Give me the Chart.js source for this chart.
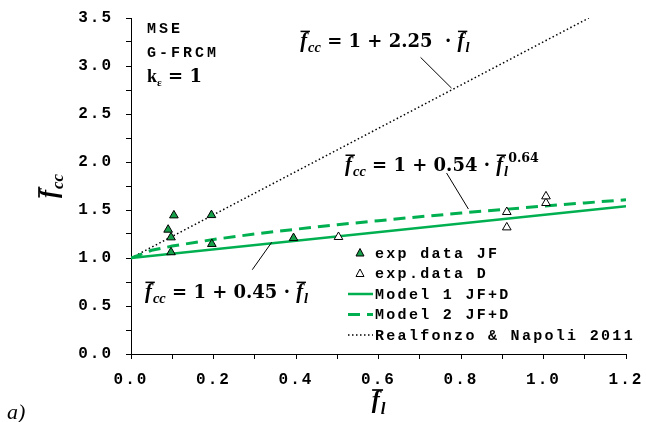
<!DOCTYPE html>
<html>
<head>
<meta charset="utf-8">
<script src="https://cdn.jsdelivr.net/npm/chart.js@4.4.1/dist/chart.umd.min.js"></script>
<style>
    html, body { margin: 0; padding: 0; background: #fff; }
    #wrap { width: 646px; height: 422px; }
</style>
</head>
<body>
<div id="wrap"><canvas id="chart" width="646" height="422"></canvas></div>
<script>
// experimental points
const jfX = [0.09, 0.097, 0.097, 0.104, 0.195, 0.196, 0.394];
const jfY = [1.295, 1.215, 1.06, 1.444, 1.447, 1.146, 1.208];
const dX = [0.503, 0.911, 0.911, 1.006, 1.006];
const dY = [1.219, 1.479, 1.319, 1.573, 1.642];

// model curves
const model1X = [0, 1.2];
const model1Y = [1.0, 1.54];
const model2X = [0, 0.05, 0.1, 0.2, 0.3, 0.4, 0.5, 0.6, 0.7, 0.8, 0.9, 1.0, 1.1, 1.2];
const model2Y = [1.0, 1.08, 1.124, 1.193, 1.25, 1.3, 1.347, 1.389, 1.43, 1.468, 1.505, 1.54, 1.574, 1.607];
const realX = [0, 1.11];
const realY = [1.0, 3.5];

const seriesLabels = ["exp data JF", "exp.data D", "Model 1 JF+D", "Model 2 JF+D", "Realfonzo & Napoli 2011"];
const xTickLabels = ["0.0", "0.2", "0.4", "0.6", "0.8", "1.0", "1.2"];
const yTickLabels = ["0.0", "0.5", "1.0", "1.5", "2.0", "2.5", "3.0", "3.5"];

const GREEN = "#00b050";
const MARK_GREEN = "#17a04a";
const MONO = "'Liberation Mono', 'DejaVu Sans Mono', monospace";
const SERIF = "'DejaVu Serif', serif";
const SERIF_IT = "'Liberation Serif', serif";

function pts(xs, ys) {
    return xs.map((x, i) => ({ x: x, y: ys[i] }));
}

function tickLabel(labels, step) {
    return function (v) {
        const i = Math.round(v / step);
        return Math.abs(v - i * step) < 1e-6 ? labels[i] : "";
    };
}

// draws a formula made of parts: {t, it, sub, sup, bar}
function drawMath(ctx, x, y, parts, size) {
    let cx = x;
    parts.forEach((p) => {
        const small = p.sub || p.sup;
        const s = small ? size * 0.7 : size;
        const fam = p.it ? SERIF_IT : SERIF;
        const sz = p.it ? s * 1.15 : s;
        ctx.font = (p.it ? "italic " : "") + "bold " + sz + "px " + fam;
        const dy = p.sub ? size * 0.3 : p.sup ? -size * 0.48 : 0;
        ctx.fillText(p.t, cx, y + dy);
        const w = ctx.measureText(p.t).width;
        if (p.bar) {
            ctx.fillRect(cx + sz * 0.02, y - sz * 0.78, w + sz * 0.12, Math.max(1.5, sz * 0.07));
        }
        cx += w + (p.gap || 0);
    });
    return cx - x;
}

function measureMath(ctx, parts, size) {
    ctx.save();
    ctx.globalAlpha = 0;
    const w = drawMath(ctx, 0, 0, parts, size);
    ctx.restore();
    return w;
}

const fcc = [{ t: "f", it: 1, bar: 1, gap: 1 }, { t: "cc", it: 1, sub: 1 }];
const fl = [{ t: "f", it: 1, bar: 1, gap: 1 }, { t: "l", it: 1, sub: 1 }];

const equations = [
    { x: 0.41, y: 3.2, parts: fcc.concat([{ t: " = 1 + 2.25  · " }], fl), lead: [0.702, 3.09, 0.777, 2.77] },
    { x: 0.519, y: 1.91, parts: fcc.concat([{ t: " = 1 + 0.54 · " }], fl, [{ t: "0.64", sup: 1 }]), lead: [0.765, 1.885, 0.818, 1.51] },
    { x: 0.034, y: 0.586, parts: fcc.concat([{ t: " = 1 + 0.45 · " }], fl), lead: [0.294, 0.878, 0.341, 1.163] },
];

const spacing = {
    id: "spacing",
    beforeLayout(chart) { chart.ctx.letterSpacing = "2px"; },
    beforeDraw(chart) { chart.ctx.letterSpacing = "2px"; },
};

const extras = {
    id: "extras",
    afterDraw(chart) {
        const ctx = chart.ctx;
        const xs = chart.scales.x;
        const ys = chart.scales.y;
        const area = chart.chartArea;
        ctx.save();
        ctx.letterSpacing = "0px";
        ctx.fillStyle = "#000";
        ctx.strokeStyle = "#000";
        ctx.textBaseline = "alphabetic";
        ctx.textAlign = "left";

        // equations with leader lines
        equations.forEach((e) => {
            drawMath(ctx, xs.getPixelForValue(e.x), ys.getPixelForValue(e.y), e.parts, 18);
            ctx.lineWidth = 1;
            ctx.beginPath();
            ctx.moveTo(xs.getPixelForValue(e.lead[0]), ys.getPixelForValue(e.lead[1]));
            ctx.lineTo(xs.getPixelForValue(e.lead[2]), ys.getPixelForValue(e.lead[3]));
            ctx.stroke();
        });

        // case notes
        const nx = xs.getPixelForValue(0.039);
        ctx.font = "bold 15px " + MONO;
        ctx.letterSpacing = "3px";
        ctx.fillText("MSE", nx, ys.getPixelForValue(3.34));
        ctx.fillText("G-FRCM", nx, ys.getPixelForValue(3.09));
        ctx.letterSpacing = "0px";
        const ky = ys.getPixelForValue(2.83);
        ctx.font = "bold 18px 'Liberation Serif', serif";
        ctx.fillText("k", nx, ky);
        let kw = ctx.measureText("k").width;
        ctx.font = "bold 11px 'Liberation Serif', serif";
        ctx.fillText("ε", nx + kw, ky + 4);
        kw += ctx.measureText("ε").width;
        ctx.font = "bold 18px " + SERIF;
        ctx.fillText(" = 1", nx + kw, ky);

        // axis titles
        const xw = measureMath(ctx, fl, 21);
        drawMath(ctx, (area.left + area.right) / 2 - xw / 2, 408, fl, 21);
        ctx.save();
        ctx.translate(57, (area.top + area.bottom) / 2);
        ctx.rotate(-Math.PI / 2);
        const yw = measureMath(ctx, fcc, 21);
        drawMath(ctx, -yw / 2, 0, fcc, 21);
        ctx.restore();

        // panel tag
        ctx.font = "italic 22px 'Liberation Serif', serif";
        ctx.fillText("a)", 7, 419);

        // legend
        const ds = chart.data.datasets;
        const lx = 348;
        ctx.font = "bold 15px " + MONO;
        ctx.letterSpacing = "2.3px";
        ctx.textBaseline = "middle";
        ds.forEach((d, i) => {
            const ry = 253 + i * 20.5;
            if (d.showLine) {
                ctx.save();
                ctx.strokeStyle = d.borderColor;
                ctx.lineWidth = d.borderWidth;
                ctx.setLineDash(d.borderDash || []);
                ctx.beginPath();
                ctx.moveTo(lx, ry);
                ctx.lineTo(lx + 25, ry);
                ctx.stroke();
                ctx.restore();
            } else {
                ctx.save();
                ctx.fillStyle = d.backgroundColor;
                ctx.strokeStyle = "#000";
                ctx.lineWidth = 1;
                ctx.beginPath();
                ctx.moveTo(lx + 12, ry - 4.5);
                ctx.lineTo(lx + 16, ry + 3);
                ctx.lineTo(lx + 8, ry + 3);
                ctx.closePath();
                ctx.fill();
                ctx.stroke();
                ctx.restore();
            }
            ctx.fillStyle = "#000";
            ctx.fillText(d.label, lx + 27, ry + 1);
        });
        ctx.restore();
    },
};

new Chart(document.getElementById("chart").getContext("2d"), {
    type: "scatter",
    data: {
        datasets: [
            {
                label: seriesLabels[0],
                data: pts(jfX, jfY),
                pointStyle: "triangle",
                radius: 5,
                backgroundColor: MARK_GREEN,
                borderColor: "#000",
                borderWidth: 1,
            },
            {
                label: seriesLabels[1],
                data: pts(dX, dY),
                pointStyle: "triangle",
                radius: 5,
                backgroundColor: "#fff",
                borderColor: "#000",
                borderWidth: 1,
            },
            {
                label: seriesLabels[2],
                data: pts(model1X, model1Y),
                showLine: true,
                borderColor: GREEN,
                borderWidth: 2.5,
                pointRadius: 0,
            },
            {
                label: seriesLabels[3],
                data: pts(model2X, model2Y),
                showLine: true,
                borderColor: GREEN,
                borderWidth: 3,
                borderDash: [12, 7],
                pointRadius: 0,
            },
            {
                label: seriesLabels[4],
                data: pts(realX, realY),
                showLine: true,
                borderColor: "#000",
                borderWidth: 1.5,
                borderDash: [1.5, 2.5],
                pointRadius: 0,
            },
        ],
    },
    options: {
        responsive: false,
        animation: false,
        layout: { padding: { left: 0, right: 20, top: 18, bottom: 0 } },
        plugins: {
            legend: { display: false },
            tooltip: { enabled: false },
        },
        scales: {
            x: {
                type: "linear",
                min: 0,
                max: 1.2,
                afterFit(s) {
                    s.height = 68;
                    s.paddingLeft = 0;
                    s.paddingRight = 0;
                },
                border: { color: "#000", width: 1 },
                grid: { drawOnChartArea: false, color: "#000", tickLength: 5 },
                ticks: {
                    stepSize: 0.1,
                    autoSkip: false,
                    maxRotation: 0,
                    padding: 11,
                    color: "#000",
                    font: { family: MONO, size: 16, weight: "bold" },
                    callback: tickLabel(xTickLabels, 0.2),
                },
            },
            y: {
                type: "linear",
                min: 0,
                max: 3.5,
                afterFit(s) {
                    s.width = 131;
                    s.paddingTop = 0;
                    s.paddingBottom = 0;
                },
                border: { color: "#000", width: 1 },
                grid: { drawOnChartArea: false, color: "#000", tickLength: 5 },
                ticks: {
                    stepSize: 0.25,
                    autoSkip: false,
                    padding: 13,
                    color: "#000",
                    font: { family: MONO, size: 16, weight: "bold" },
                    callback: tickLabel(yTickLabels, 0.5),
                },
            },
        },
    },
    plugins: [spacing, extras],
});
</script>
</body>
</html>
